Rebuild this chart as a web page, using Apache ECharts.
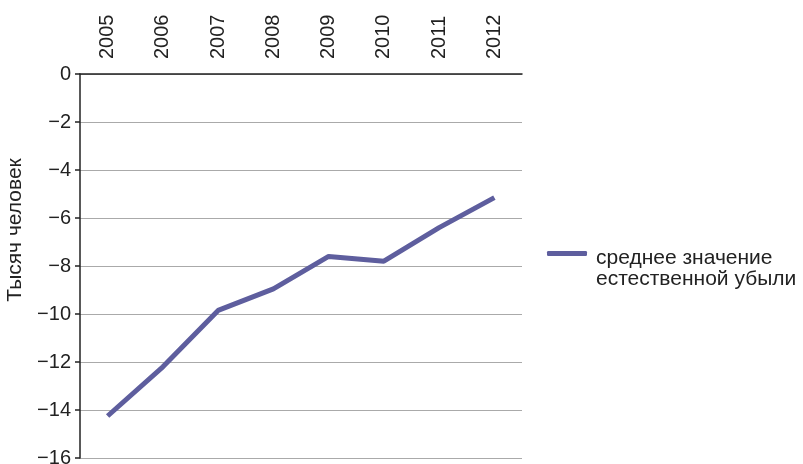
<!DOCTYPE html>
<html><head><meta charset="utf-8">
<script src="https://cdn.jsdelivr.net/npm/echarts@6/dist/echarts.min.js"></script>
<style>html,body{margin:0;padding:0;background:#fff}#c{width:803px;height:464px}</style>
</head><body><div id="c"></div>
<script>
const years = ['2005','2006','2007','2008','2009','2010','2011','2012'];
const values = [-14.25, -12.2, -9.85, -8.95, -7.6, -7.8, -6.4, -5.15];
const seriesName = 'среднее значение\nестественной убыли';
const yName = 'Тысяч человек';
const chart = echarts.init(document.getElementById('c'));
const font = 'Liberation Sans, Arial, sans-serif';
chart.setOption({
  animation: false,
  textStyle: {fontFamily: font},
  grid: {left: 80, top: 74, width: 442, height: 384, containLabel: false, outerBoundsMode: 'none'},
  legend: {
    data: [seriesName], orient: 'vertical', left: 547, top: 227, padding: 0,
    itemWidth: 40, itemHeight: 5, itemGap: 0,
    icon: 'roundRect',
    formatter: name => '{s| }\n' + name.split('\n').map(l => '{t|' + l + '}').join('\n'),
    textStyle: {
      fontSize: 21, color: '#222', fontFamily: font, padding: [0, 0, 0, 4],
      rich: {
        s: {fontSize: 10, lineHeight: 30},
        t: {fontSize: 21, color: '#222', fontFamily: font, lineHeight: 21.5}
      }
    },
  },
  xAxis: {
    type: 'category', position: 'top', data: years, boundaryGap: true,
    axisLine: {lineStyle: {color: '#222', width: 1.5}},
    axisTick: {length: 5, lineStyle: {color: '#222', width: 1.5}},
    axisLabel: {rotate: 90, fontSize: 20, color: '#222', margin: 15, fontFamily: font},
    splitLine: {show: false}
  },
  yAxis: {
    type: 'value', min: -16, max: 0, interval: 2,
    name: yName, nameLocation: 'middle', nameGap: 51,
    nameTextStyle: {fontSize: 21, color: '#222', fontFamily: font, padding: [0, 0, 0, 72]},
    axisLine: {show: true, lineStyle: {color: '#222', width: 1.5}},
    axisTick: {show: true, length: 5, lineStyle: {color: '#222', width: 1.5}},
    axisLabel: {fontSize: 20, color: '#222', margin: 9, fontFamily: font,
      formatter: v => String(v).replace('-', '\u2212')},
    splitLine: {lineStyle: {color: '#aaa', width: 1}}
  },
  series: [{
    name: seriesName, type: 'line', data: values,
    symbol: 'none', lineStyle: {color: '#5e5e9e', width: 5},
    itemStyle: {color: '#5e5e9e'}
  }]
});
</script></body></html>
